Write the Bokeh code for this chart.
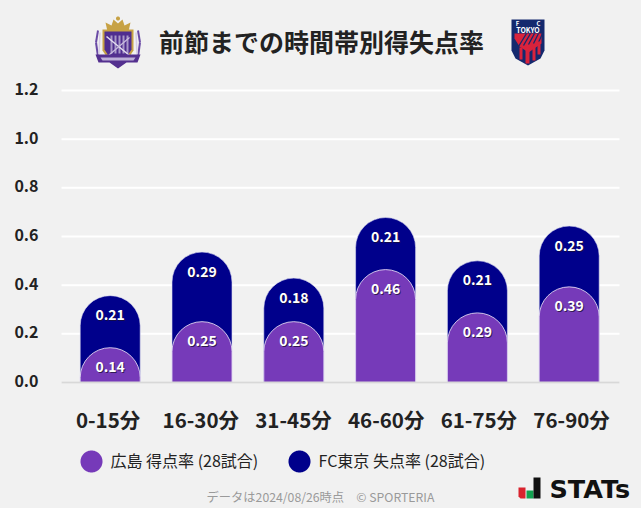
import numpy as np
from bokeh.plotting import figure
from bokeh.models import ColumnDataSource, Label, PolyAnnotation, FixedTicker, Range1d, LinearAxis
from bokeh.core.properties import value
from bokeh.embed import file_html
from bokeh.resources import INLINE

# ---------- data ----------
categories = ["0-15分", "16-30分", "31-45分", "46-60分", "61-75分", "76-90分"]
scored = [0.143, 0.25, 0.25, 0.464, 0.286, 0.393]
conceded = [0.214, 0.286, 0.179, 0.214, 0.214, 0.25]
y_ticks = [0.0, 0.2, 0.4, 0.6, 0.8, 1.0, 1.2]
title_text = "前節までの時間帯別得失点率"
legend_home = "広島 得点率 (28試合)"
legend_away = "FC東京 失点率 (28試合)"
footer_text = "データは2024/08/26時点　© SPORTERIA"

BG = "#f1f1f1"
PURPLE = "#763ab9"
NAVY = "#00008b"
INK = "#222222"
FONT = "Noto Sans CJK JP"
W, H = 641, 508

# page-pixel calibration of the scales
X0_PX, X_STEP = 109.7, 91.8      # first bar centre, bar spacing
XL0_PX, XL_STEP = 107.6, 92.7    # first tick label centre, tick label spacing
Y0_PX, Y_UNIT = 382, 292 / 1.2   # pixel row of value 0, pixels per unit
px_x = lambda px: (px - X0_PX) / X_STEP
px_xl = lambda px: (px - XL0_PX) / XL_STEP

xs = list(range(len(categories)))
total = [a + b for a, b in zip(scored, conceded)]
src = ColumnDataSource(dict(x=xs, scored=scored, conceded=conceded, total=total,
                            s_txt=[f"{v:.2f}" for v in scored], c_txt=[f"{v:.2f}" for v in conceded]))

y_lo, y_hi = (Y0_PX - H) / Y_UNIT, Y0_PX / Y_UNIT
p = figure(width=W, height=H,
           x_range=Range1d(px_x(0), px_x(W)),
           y_range=Range1d(y_lo, y_hi),
           x_axis_type=None, y_axis_type=None,
           output_backend="svg", toolbar_location=None,
           min_border=0, background_fill_color=BG, border_fill_color=BG, outline_line_color=None)
p.grid.visible = False
# the y tick labels sit 1.5 px above their rules; the x tick labels are spaced a little wider than the bars
p.extra_y_ranges = {"labels": Range1d(y_lo - 1.5 / Y_UNIT, y_hi - 1.5 / Y_UNIT)}
p.extra_x_ranges = {"labels": Range1d(px_xl(0), px_xl(W))}

# grid rules
p.segment(x0=px_x(61), x1=px_x(619), y0=y_ticks, y1=y_ticks, line_color="white", line_width=2, level="underlay")

# axes
yaxis = LinearAxis(ticker=FixedTicker(ticks=y_ticks), fixed_location=px_x(61), y_range_name="labels",
                   major_label_overrides={t: f"{t:.1f}" for t in y_ticks},
                   axis_line_color=None, major_tick_line_color=None, minor_tick_line_color=None,
                   major_label_text_font=FONT, major_label_text_font_size="16px",
                   major_label_text_font_style="bold", major_label_text_color=INK, major_label_standoff=17)
p.add_layout(yaxis, "left")
xaxis = LinearAxis(ticker=FixedTicker(ticks=xs), fixed_location=0, x_range_name="labels",
                   bounds=(px_xl(61), px_xl(619)),
                   major_label_overrides=dict(zip(xs, categories)),
                   axis_line_color="#d8d8d8", axis_line_width=2,
                   major_tick_line_color=None, minor_tick_line_color=None,
                   major_label_text_font=FONT, major_label_text_font_size="20.5px",
                   major_label_text_font_style="bold", major_label_text_color=INK, major_label_standoff=15)
p.add_layout(xaxis, "below")

# bars
BW = 60 / X_STEP
p.vbar(x="x", bottom=0, top="total", width=BW, source=src, fill_color=NAVY,
       line_color="#dcdcf0", line_alpha=0.6, line_width=1, border_radius=(30, 30, 0, 0))
p.vbar(x="x", bottom=0, top="scored", width=BW, source=src, fill_color=PURPLE,
       line_color="#e6dcf5", line_alpha=0.85, line_width=1, border_radius=(30, 30, 0, 0))

# value labels (shadow, then white)
for col, ycol in (("c_txt", "total"), ("s_txt", "scored")):
    for dx, color, alpha in ((1, "#1a1033", 0.75), (0, "white", 1)):
        p.text(x="x", y=ycol, text=col, source=src, text_align="center", text_baseline="middle",
               x_offset=dx, y_offset=19 + dx, text_color=color, text_alpha=alpha,
               text_font=value(FONT), text_font_size="14px", text_font_style="bold")


# ---------- decorations in page pixels (x, y measured from top left of the page) ----------
def poly(xs, ys, color, alpha=1.0):
    p.add_layout(PolyAnnotation(xs=list(np.asarray(xs, float)), ys=list(np.asarray(ys, float)),
                                xs_units="canvas", ys_units="canvas",
                                fill_color=color, fill_alpha=alpha, line_color=None))


def stroke(x0, y0, x1, y1, w, color):
    nx, ny = -(y1 - y0), x1 - x0
    n = (nx * nx + ny * ny) ** 0.5
    nx, ny = nx / n * w / 2, ny / n * w / 2
    poly([x0 + nx, x1 + nx, x1 - nx, x0 - nx], [y0 + ny, y1 + ny, y1 - ny, y0 - ny], color)


def text(x, y, s, size, color=INK, style="normal", align="left", font=FONT):
    p.add_layout(Label(x=x, y=y, x_units="canvas", y_units="canvas", text=s,
                       text_font=font, text_font_size=size, text_font_style=style, text_color=color,
                       text_align=align, text_baseline="middle"))


def disc(cx, cy, r, color):
    t = np.linspace(0, 2 * np.pi, 72, endpoint=False)
    poly(cx + r * np.cos(t), cy + r * np.sin(t), color)


# title
text(158.5, 40, title_text, "25px", style="bold")

# Hiroshima crest: laurels, crown, gold-edged shield, emblem and banner
for sgn in (-1, 1):
    c = 117.5
    stroke(c + sgn * 20, 30, c + sgn * 22, 42, 2, "#6a4aa5")
    stroke(c + sgn * 22, 42, c + sgn * 20, 56, 2, "#6a4aa5")
    stroke(c + sgn * 18, 32, c + sgn * 19, 54, 1.5, "#d7cde6")
poly([107, 105, 111, 113, 117.5, 122, 124, 130, 128, 128, 107], [31, 22, 25, 19, 23, 19, 25, 22, 31, 31, 31], "#c7a245")
disc(117.5, 18, 2, "#c7a245")
poly([102, 133, 133, 129, 117.5, 106, 102], [29, 29, 50, 56, 62, 56, 50], "#c7a245")
poly([104, 131, 131, 127.5, 117.5, 107.5, 104], [31, 31, 49, 54.5, 60, 54.5, 49], "#4f2d8f")
for xbar in (110, 114, 118, 122, 126):
    poly([xbar, xbar + 2, xbar + 2, xbar], [35, 35, 53, 53], "#a897c8")
stroke(106, 36, 129, 55, 1.5, "#e4def0")
stroke(108, 55, 129, 37, 1.2, "#c9bddf")
poly([95, 140, 137, 126, 117.5, 109, 98], [54, 54, 62, 62, 68, 62, 62], "#54308f")
poly([100, 135, 133, 102], [57, 57, 60, 60], "#bdb0d8")

# FC Tokyo crest
poly([511, 544, 544, 540, 527.5, 515, 511], [19, 19, 50, 58, 65, 58, 50], "#14296e")
poly([514, 541, 541, 528, 519, 514], [33, 33, 43, 52, 46, 38], "#d9233c")
for k in range(5):
    stroke(518 + 5 * k, 46 - k, 526 + 4 * k, 33, 1.3, "#14296e")
poly([519, 522, 522, 519], [47, 47, 59, 59], "#d9233c")
poly([525, 529, 529, 525], [47, 47, 63, 63], "#d9233c")
poly([532, 535, 535, 532], [44, 44, 60, 60], "#d9233c")
poly([537, 540, 540, 537], [41, 41, 54, 54], "#d9233c")
text(527.5, 29, "TOKYO", "7px", color="white", style="bold", align="center")
text(517, 23, "F", "6px", color="white", style="bold", align="center")
text(538, 23, "C", "6px", color="white", style="bold", align="center")

# legend
disc(91, 461, 11, PURPLE)
text(110, 459.5, legend_home, "16px")
disc(299, 461, 11, NAVY)
text(318, 459.5, legend_away, "16px")

# footer
text(320, 496, footer_text, "12.25px", color="#9a9a9a", align="center")

# STATs mark
poly([518, 525, 525, 520, 518], [487, 487, 498, 498, 496], "#d9232e")
poly([526, 533, 533, 526], [490, 490, 498, 498], "#12a150")
poly([533, 540, 540, 533], [477, 477, 498, 498], "#111111")
text(549, 488, "STATs", "25.5px", color="#111111", style="bold", font="DejaVu Sans")

html = file_html(p, INLINE)
html = html.replace("<head>", f"<head><style>html,body{{background:{BG};}}</style>", 1)
open("out.html", "w").write(html)
